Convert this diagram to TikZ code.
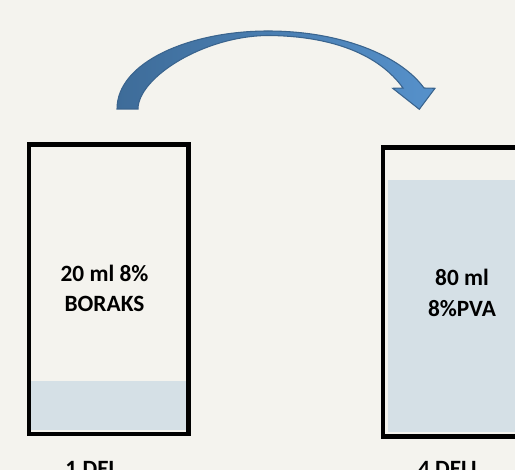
\documentclass[tikz,border=0pt]{standalone}
\usepackage{fontspec}
\setmainfont{Carlito}
\definecolor{bg}{RGB}{244,243,238}
\definecolor{liquid}{RGB}{213,224,230}
\definecolor{arrowdark}{RGB}{62,108,153}
\definecolor{arrowlight}{RGB}{86,145,203}
\definecolor{arrowline}{RGB}{58,100,142}
\begin{document}
\begin{tikzpicture}[x=0.75pt,y=-0.75pt,
  lbl/.style={font=\bfseries\fontsize{17.5}{21}\selectfont, inner sep=0pt, anchor=base},
  beaker/.style={draw=black, line width=3.375pt},
  liq/.style={fill=liquid}]
\useasboundingbox (0,0) rectangle (515,470);
\fill[bg] (0,0) rectangle (515,470);
\clip (0,0) rectangle (515,470);
% left beaker
\fill[liq] (31,381) rectangle (186.5,430);
\draw[beaker] (29,144.5) rectangle (188.7,434);
% right beaker
\fill[liq] (388,180) rectangle (530,432);
\draw[beaker] (383,147.7) rectangle (540,436.3);
% curved arrow
\draw[arrowline, line width=0.8pt, left color=arrowdark, right color=arrowlight, line join=miter]
  (117,109) .. controls (117,62) and (190,31) .. (268,31)
  .. controls (340,31) and (400,55) .. (424,88)
  -- (435,88.3) -- (419.3,109.3) -- (392.7,88.3) -- (403,88)
  .. controls (380,56) and (335,36) .. (268,35.5)
  .. controls (203,36) and (138,78) .. (138,109) -- cycle;
% texts
\node[lbl] (l1) at (104.5,281.7) {20 ml 8\%};
\node[lbl] (l2) at (104.5,311.7) {BORAKS};
\node[lbl] (r1) at (462,285.7) {80 ml};
\node[lbl] (r2) at (462,316.7) {8\%PVA};
\node[lbl] (b1) at (92,476.7) {1 DEL};
\node[lbl] (b2) at (449.5,476.7) {4 DELL};
\end{tikzpicture}
\end{document}
